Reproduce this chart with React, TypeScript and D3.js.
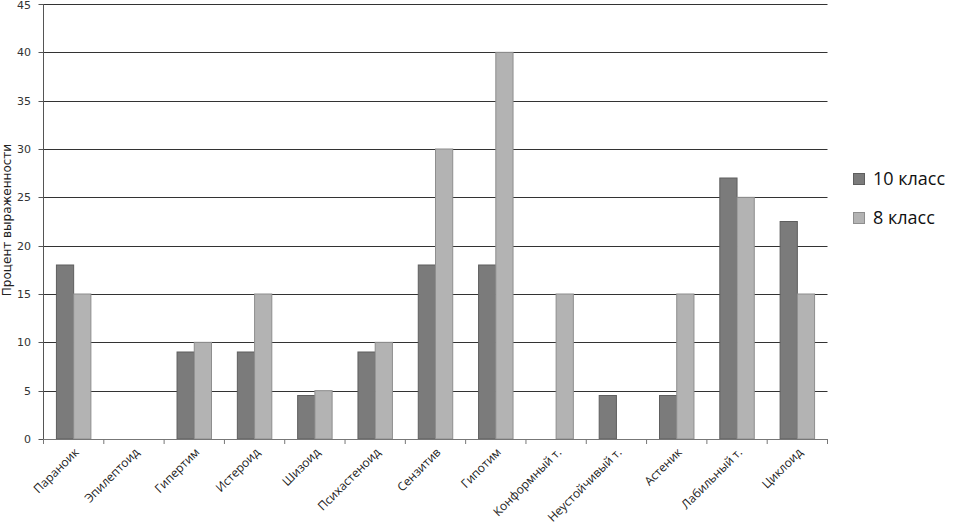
import React from "react";
import * as d3 from "d3";

const categories = [
  "Параноик",
  "Эпилептоид",
  "Гипертим",
  "Истероид",
  "Шизоид",
  "Психастеноид",
  "Сензитив",
  "Гипотим",
  "Конформный т.",
  "Неустойчивый т.",
  "Астеник",
  "Лабильный т.",
  "Циклоид",
];
const grade10 = [18, 0, 9, 9, 4.5, 9, 18, 18, 0, 4.5, 4.5, 27, 22.5];
const grade8 = [15, 0, 10, 15, 5, 10, 30, 40, 15, 0, 15, 25, 15];
const seriesNames = ["10 класс", "8 класс"];
const yTicks = [0, 5, 10, 15, 20, 25, 30, 35, 40, 45];
const yTitle = "Процент выраженности";

const fills = ["#7b7b7b", "#b3b3b3"];
const strokes = ["#5e5e5e", "#8e8e8e"];

export default function App() {
  const W = 959;
  const H = 524;
  const left = 43.5;
  const right = 827.5;
  const top = 4;
  const bottom = 439;

  const x = d3.scaleBand<string>().domain(categories).range([left, right]).padding(0);
  const xs = d3
    .scaleBand<string>()
    .domain(seriesNames)
    .range([0, x.bandwidth()])
    .paddingInner(0)
    .paddingOuter(0.75);
  const y = d3.scaleLinear().domain([0, 45]).range([bottom, top]);
  const data = [grade10, grade8];
  const tickFont = "'DejaVu Sans', Verdana, sans-serif";
  const boundaries = categories.map((c) => x(c) as number).concat([right]);

  return (
    <svg width={W} height={H} style={{ position: "absolute", left: 0, top: 0, background: "#fff" }}>
      {yTicks.map((t) =>
        t === 0 ? null : (
          <line
            key={"g" + t}
            x1={left}
            x2={right}
            y1={Math.round(y(t)) + 0.5}
            y2={Math.round(y(t)) + 0.5}
            stroke="#333"
            strokeWidth={1}
          />
        )
      )}
      {data.map((vals, si) =>
        vals.map((v, i) => {
          if (v <= 0) return null;
          const bx = (x(categories[i]) as number) + (xs(seriesNames[si]) as number);
          const by = y(v);
          return (
            <rect
              key={si + "-" + i}
              x={bx}
              y={by}
              width={xs.bandwidth()}
              height={bottom - by}
              fill={fills[si]}
              stroke={strokes[si]}
              strokeWidth={1}
            />
          );
        })
      )}
      <line x1={left} x2={left} y1={top} y2={bottom} stroke="#555" strokeWidth={1} />
      {yTicks.map((t) => (
        <g key={"yt" + t}>
          <line
            x1={left - 5}
            x2={left}
            y1={Math.round(y(t)) + 0.5}
            y2={Math.round(y(t)) + 0.5}
            stroke="#555"
          />
          <text
            x={31}
            y={Math.max(y(t), 5)}
            dy="0.35em"
            textAnchor="end"
            fontFamily={tickFont}
            fontSize={11}
            fill="#333"
          >
            {t}
          </text>
        </g>
      ))}
      <line x1={left} x2={right} y1={bottom + 0.5} y2={bottom + 0.5} stroke="#777" strokeWidth={1} />
      {boundaries.map((bx, i) => (
        <line key={"xt" + i} x1={bx} x2={bx} y1={bottom} y2={bottom + 5} stroke="#777" />
      ))}
      {categories.map((c) => {
        const cx = (x(c) as number) + x.bandwidth() / 2 + 6;
        const cy = bottom + 14;
        return (
          <text
            key={"xl" + c}
            transform={`translate(${cx},${cy}) rotate(-45)`}
            textAnchor="end"
            fontFamily="'Open Sans', sans-serif"
            fontSize={12}
            fill="#222"
          >
            {c}
          </text>
        );
      })}
      <text
        transform={`translate(11,${220}) rotate(-90)`}
        textAnchor="middle"
        fontFamily={tickFont}
        fontSize={12}
        fill="#222"
      >
        {yTitle}
      </text>
      {seriesNames.map((s, i) => (
        <g key={"lg" + s} transform={`translate(853,${173 + i * 39})`}>
          <rect x={0.5} y={0.5} width={11} height={11} fill={fills[i]} stroke={strokes[i]} />
          <text x={20} y={12} fontFamily="'Open Sans', sans-serif" fontSize={18} fill="#111">
            {s}
          </text>
        </g>
      ))}
    </svg>
  );
}
